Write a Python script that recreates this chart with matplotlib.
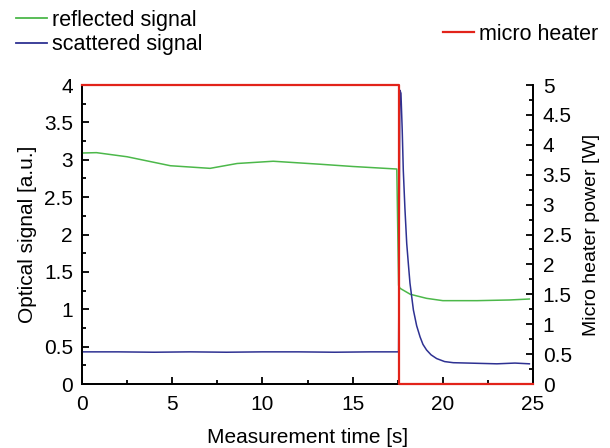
import matplotlib
matplotlib.use("Agg")
import matplotlib.pyplot as plt
from matplotlib.ticker import MultipleLocator
from matplotlib.lines import Line2D

plt.rcParams['font.family'] = ['Liberation Sans', 'DejaVu Sans']
plt.rcParams['font.size'] = 15

# reflected signal (green)
refl_t = [0.0, 0.8, 2.5, 4.9, 7.1, 8.6, 10.6, 13.2, 15.0, 17.45, 17.55, 17.63, 18.2, 19.1, 20.0, 21.9, 23.7, 24.8]
refl_v = [3.09, 3.095, 3.04, 2.92, 2.885, 2.95, 2.98, 2.94, 2.91, 2.876, 1.32, 1.28, 1.20, 1.146, 1.115, 1.115, 1.124, 1.137]

# scattered signal (blue)
scat_t = [0.0, 2.0, 4.0, 6.0, 8.0, 10.0, 12.0, 14.0, 16.0, 17.55, 17.62, 17.68, 17.75, 17.81, 17.9,
          18.0, 18.1, 18.18, 18.37, 18.55, 18.74, 18.9, 19.1, 19.35, 19.66, 20.1, 20.58, 21.88, 23.0, 24.0, 24.8]
scat_v = [0.43, 0.43, 0.425, 0.43, 0.425, 0.43, 0.43, 0.425, 0.43, 0.43, 3.93, 3.89, 3.4, 2.86, 2.35,
          1.88, 1.58, 1.35, 0.99, 0.78, 0.63, 0.53, 0.455, 0.39, 0.34, 0.30, 0.285, 0.277, 0.27, 0.28, 0.27]

# micro heater power (red), right axis
heat_t = [0.0, 17.55, 17.55, 25.0]
heat_p = [5.0, 5.0, 0.0, 0.0]

GREEN = '#4cb84a'
BLUE = '#2e3192'
RED = '#e2231a'

fig = plt.figure(figsize=(6.1, 4.48), dpi=100)
ax = fig.add_axes([82/610, 1-384/448, (533-82)/610, (384-85)/448])
ax2 = ax.twinx()

ax.plot(refl_t, refl_v, color=GREEN, lw=1.1, zorder=3)
ax.plot(scat_t, scat_v, color=BLUE, lw=1.1, zorder=3)
ax2.plot(heat_t, heat_p, color=RED, lw=1.6, clip_on=False, zorder=5)

ax.set_xlim(0, 25)
ax.set_ylim(0, 4)
ax2.set_ylim(0, 5)

for a in (ax, ax2):
    a.spines['top'].set_visible(False)
    for s in a.spines.values():
        s.set_linewidth(1.3)

ax.xaxis.set_major_locator(MultipleLocator(5))
ax.xaxis.set_minor_locator(MultipleLocator(2.5))
ax.yaxis.set_major_locator(MultipleLocator(0.5))
ax.yaxis.set_minor_locator(MultipleLocator(0.25))
ax2.yaxis.set_major_locator(MultipleLocator(0.5))
ax2.yaxis.set_minor_locator(MultipleLocator(0.25))

fmt = plt.FuncFormatter(lambda v, p: f"{v:g}")
ax.yaxis.set_major_formatter(fmt)
ax2.yaxis.set_major_formatter(fmt)

for a in (ax, ax2):
    a.tick_params(which='both', direction='in', width=1.3, labelsize=15)
    a.tick_params(which='major', length=5)
    a.tick_params(which='minor', length=3)
ax.tick_params(axis='x', which='major', pad=8)
ax.tick_params(axis='y', which='major', pad=6.5)
ax2.tick_params(axis='y', which='major', pad=7)

ax.set_xlabel('Measurement time [s]', fontsize=15, labelpad=10)
ax.set_ylabel('Optical signal [a.u.]', fontsize=15, labelpad=5)
ax2.set_ylabel('Micro heater power [W]', fontsize=14, labelpad=8)

h1 = [Line2D([], [], color=GREEN, lw=1.3), Line2D([], [], color=BLUE, lw=1.3)]
fig.legend(h1, ['reflected signal', 'scattered signal'], loc='upper left',
           bbox_to_anchor=(16/610, 1-10/448), frameon=False, fontsize=15.5,
           handlelength=1.44, handletextpad=0.23, labelspacing=0.15, borderpad=0, borderaxespad=0)
h2 = [Line2D([], [], color=RED, lw=1.6)]
fig.legend(h2, ['micro heater'], loc='upper left',
           bbox_to_anchor=(443/610, 1-24/448), frameon=False, fontsize=15.5,
           handlelength=1.44, handletextpad=0.23, borderpad=0, borderaxespad=0)

fig.savefig('out.png', dpi=100)
